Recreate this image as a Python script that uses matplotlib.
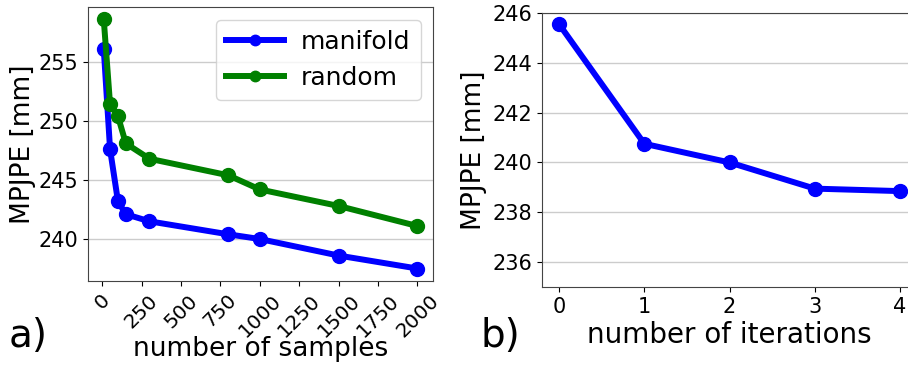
import matplotlib.pyplot as plt

# a) error vs number of samples
samples = [10, 50, 100, 150, 300, 800, 1000, 1500, 2000]
manifold = [256.1, 247.6, 243.2, 242.1, 241.5, 240.4, 240.0, 238.6, 237.5]
random_ = [258.6, 251.4, 250.4, 248.1, 246.8, 245.4, 244.2, 242.8, 241.1]

# b) error vs number of iterations
iterations = [0, 1, 2, 3, 4]
iter_err = [245.55, 240.75, 240.0, 238.95, 238.85]

fig = plt.figure(figsize=(9.08, 3.69), dpi=100)

ax1 = fig.add_axes([0.097, 0.2385, 0.380, 0.7425])
ax1.plot(samples, manifold, color='blue', lw=4.3, marker='o', ms=10, label='manifold')
ax1.plot(samples, random_, color='green', lw=4.3, marker='o', ms=10, label='random')
ax1.set_xticks(range(0, 2001, 250))
ax1.tick_params(axis='x', labelrotation=45, labelsize=14.5)
ax1.tick_params(axis='y', labelsize=15)
ax1.set_yticks([240, 245, 250, 255])
ax1.grid(axis='y', color='#cccccc', lw=1)
ax1.set_axisbelow(True)
ax1.set_ylabel('MPJPE [mm]', fontsize=19, labelpad=2)
ax1.set_xlabel('number of samples', fontsize=19, labelpad=-3)
ax1.legend(loc='upper right', fontsize=18, handlelength=2.3, markerscale=0.75,
           handletextpad=0.7)
for s in ax1.spines.values():
    s.set_color('#444444')

ax2 = fig.add_axes([0.597, 0.2222, 0.413, 0.7425])
ax2.plot(iterations, iter_err, color='blue', lw=4.3, marker='o', ms=10)
ax2.set_xlim(-0.2, 4.2)
ax2.set_ylim(235, 246)
ax2.set_yticks([236, 238, 240, 242, 244, 246])
ax2.set_xticks(iterations)
ax2.tick_params(labelsize=15)
ax2.grid(axis='y', color='#cccccc', lw=1)
ax2.set_axisbelow(True)
ax2.set_ylabel('MPJPE [mm]', fontsize=19, labelpad=4)
ax2.set_xlabel('number of iterations', fontsize=20, labelpad=3)
for s in ax2.spines.values():
    s.set_color('#444444')

fig.text(0.009, 0.06, 'a)', fontsize=28)
fig.text(0.529, 0.06, 'b)', fontsize=28)

fig.savefig('out.png', dpi=100)
